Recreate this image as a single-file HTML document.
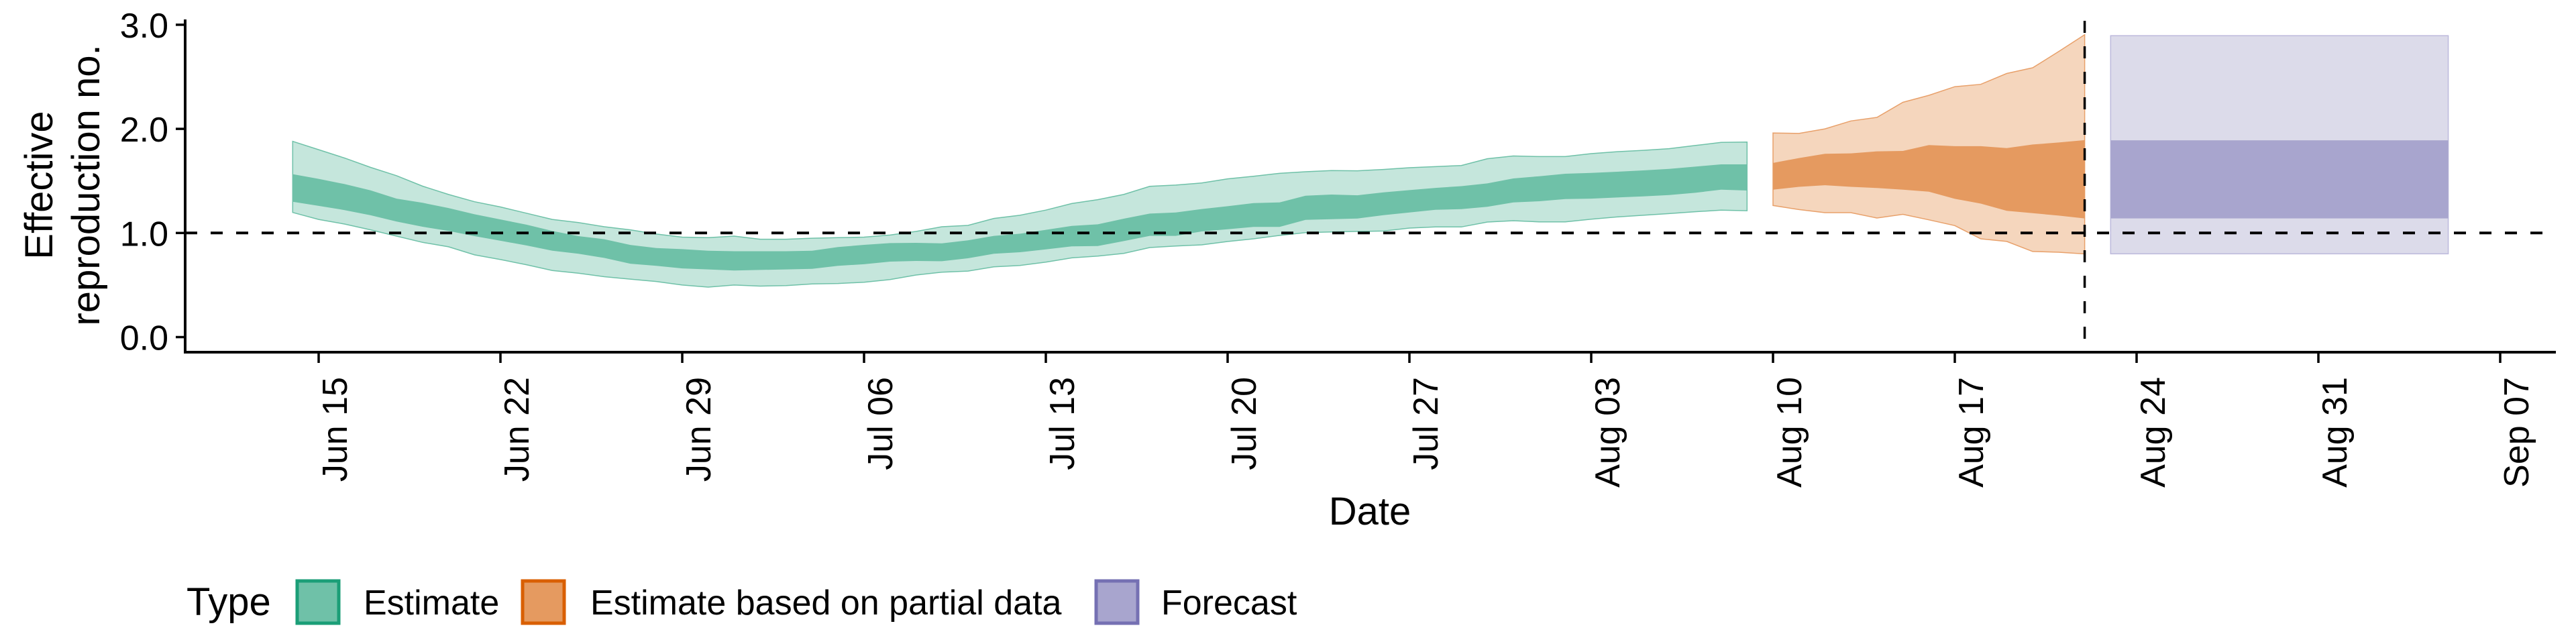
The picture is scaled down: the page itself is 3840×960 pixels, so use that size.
<!DOCTYPE html>
<html><head><meta charset="utf-8"><style>
html,body{margin:0;padding:0;background:#fff;}
svg{display:block;font-family:"Liberation Sans",sans-serif;}
</style></head><body>
<svg id="chart" width="3840" height="960" viewBox="0 0 3840 960" xmlns="http://www.w3.org/2000/svg">
<g id="bands"></g>
<g id="axes"></g>
<g id="legend"></g>
</svg>
<script>
// ---- data (day index: 0 = Jun 14) ----
const estStart = 0;
const estOuterTop = [1.88,1.80,1.72,1.63,1.55,1.45,1.37,1.30,1.25,1.19,1.13,1.10,1.06,1.03,0.99,0.96,0.955,0.97,0.94,0.94,0.95,0.955,0.96,
 0.98,1.015,1.06,1.073,1.14,1.17,1.22,1.283,1.32,1.37,1.448,1.46,1.48,1.52,1.545,1.573,1.588,1.60,1.597,1.61,1.627,1.637,1.648,1.713,1.74,1.734,1.734,1.762,1.781,1.794,1.81,1.84,1.87,1.874];
const estInnerTop = [1.565,1.52,1.47,1.41,1.33,1.29,1.24,1.18,1.13,1.08,1.02,0.97,0.94,0.885,0.855,0.845,0.83,0.825,0.825,0.825,0.83,0.865,0.886,
 0.903,0.905,0.90,0.93,0.972,0.993,1.03,1.068,1.083,1.137,1.186,1.197,1.23,1.257,1.287,1.294,1.358,1.369,1.362,1.39,1.412,1.433,1.45,1.476,1.524,1.545,1.569,1.577,1.588,1.601,1.616,1.637,1.659,1.659];
const estInnerBottom = [1.30,1.26,1.22,1.17,1.11,1.06,1.02,0.97,0.925,0.88,0.83,0.80,0.76,0.705,0.685,0.66,0.65,0.64,0.645,0.65,0.655,0.685,0.70,
 0.725,0.731,0.729,0.757,0.80,0.815,0.843,0.871,0.875,0.922,0.972,0.972,1.015,1.036,1.058,1.058,1.126,1.133,1.139,1.171,1.197,1.223,1.229,1.251,1.294,1.305,1.326,1.33,1.341,1.352,1.365,1.386,1.416,1.408];
const estOuterBottom = [1.197,1.13,1.086,1.03,0.97,0.91,0.867,0.79,0.745,0.695,0.64,0.614,0.58,0.557,0.534,0.50,0.48,0.50,0.49,0.495,0.51,0.515,0.527,
 0.553,0.596,0.624,0.634,0.675,0.688,0.72,0.761,0.778,0.804,0.86,0.875,0.886,0.918,0.944,0.976,1.004,1.01,1.015,1.019,1.047,1.058,1.058,1.105,1.118,1.107,1.107,1.133,1.154,1.17,1.186,1.204,1.219,1.214];

const partStart = 57;
const partOuterTop = [1.961,1.956,2.0,2.076,2.11,2.255,2.322,2.405,2.428,2.532,2.587,2.743,2.904];
const partInnerTop = [1.673,1.72,1.761,1.765,1.784,1.788,1.844,1.834,1.834,1.816,1.85,1.869,1.892];
const partInnerBottom = [1.416,1.443,1.459,1.443,1.432,1.416,1.397,1.328,1.282,1.213,1.19,1.167,1.14];
const partOuterBottom = [1.264,1.225,1.195,1.195,1.144,1.179,1.126,1.071,0.944,0.919,0.822,0.815,0.799];

const fcStartDay = 70, fcEndDay = 83;
const fcOuter = [0.80, 2.895];
const fcInner = [1.14, 1.89];

const forecastDateDay = 69;
const yTicks = [0, 1, 2, 3];
const yTickLabels = ["0.0","1.0","2.0","3.0"];
const xTickDays = [1,8,15,22,29,36,43,50,57,64,71,78,85];
const xTickLabels = ["Jun 15","Jun 22","Jun 29","Jul 06","Jul 13","Jul 20","Jul 27","Aug 03","Aug 10","Aug 17","Aug 24","Aug 31","Sep 07"];

// ---- scales ----
const X = d => 436.3 + 38.714 * d;
const Y = v => 502.5 - 155.2 * v;
const NS = "http://www.w3.org/2000/svg";
function mk(tag, attrs, parent){ const e=document.createElementNS(NS,tag); for(const k in attrs) e.setAttribute(k,attrs[k]); parent.appendChild(e); return e; }

const bands = document.getElementById('bands');
function band(start, top, bot, fill, stroke, name){
  let pts = top.map((v,i)=>X(start+i).toFixed(1)+","+Y(v).toFixed(1));
  for(let i=bot.length-1;i>=0;i--) pts.push(X(start+i).toFixed(1)+","+Y(bot[i]).toFixed(1));
  const p = mk('polygon',{points:pts.join(' '),fill:fill,stroke:stroke,'stroke-width':stroke==='none'?0:1.5},bands);
  
  
}
band(estStart, estOuterTop, estOuterBottom, '#c5e6dc', '#6fc1a8', 'estimate-90-band');
band(estStart, estInnerTop, estInnerBottom, '#6fc1a8', 'none', 'estimate-50-band');
band(partStart, partOuterTop, partOuterBottom, '#f5d6bd', '#e8a06a', 'partial-90-band');
band(partStart, partInnerTop, partInnerBottom, '#e59a60', 'none', 'partial-50-band');
function rect(d0,d1,lo,hi,fill,stroke,name){
  const r = mk('rect',{x:X(d0),y:Y(hi),width:X(d1)-X(d0),height:Y(lo)-Y(hi),fill:fill,stroke:stroke,'stroke-width':stroke==='none'?0:1.5},bands);
  
  
}
rect(fcStartDay, fcEndDay, fcOuter[0], fcOuter[1], '#dcdbea', '#bcb9dc', 'forecast-90-band');
rect(fcStartDay, fcEndDay, fcInner[0], fcInner[1], '#a8a5ce', 'none', 'forecast-50-band');

// ---- axes ----
const axes = document.getElementById('axes');
const hline = mk('line',{x1:276,x2:3808,y1:Y(1),y2:Y(1),stroke:'#000','stroke-width':4,'stroke-dasharray':'18 20'},axes);


const vline = mk('line',{x1:X(forecastDateDay),x2:X(forecastDateDay),y1:31,y2:525,stroke:'#000','stroke-width':3.5,'stroke-dasharray':'18 20'},axes);


const yax = mk('line',{x1:276,x2:276,y1:29,y2:527,stroke:'#000','stroke-width':4},axes);


const xax = mk('line',{x1:274,x2:3810,y1:525,y2:525,stroke:'#000','stroke-width':4},axes);


yTicks.forEach((v,i)=>{
  const t = mk('line',{x1:262,x2:276,y1:Y(v),y2:Y(v),stroke:'#000','stroke-width':3.5},axes);
  
  
  const l = mk('text',{x:251,y:Y(v)+19,'text-anchor':'end','font-size':52,fill:'#000'},axes);
  l.textContent = yTickLabels[i];
  
  
});
xTickDays.forEach((d,i)=>{
  const t = mk('line',{x1:X(d),x2:X(d),y1:525,y2:541,stroke:'#000','stroke-width':3.5},axes);
  
  
  const bx = X(d)+42, by = 562;
  const l = mk('text',{x:0,y:0,'text-anchor':'end','font-size':52,fill:'#000',transform:`translate(${bx},${by}) rotate(-90)`},axes);
  l.textContent = xTickLabels[i];
  
  
});
const xt = mk('text',{x:2042,y:782,'text-anchor':'middle','font-size':58,fill:'#000'},axes);
xt.textContent = 'Date';


const yt = mk('text',{'text-anchor':'middle','font-size':58,fill:'#000',transform:'translate(78,276) rotate(-90)'},axes);


const ts1 = mk('tspan',{x:0,y:0},yt); ts1.textContent='Effective';
const ts2 = mk('tspan',{x:0,y:70},yt); ts2.textContent='reproduction no.';

// ---- legend ----
const lg = document.getElementById('legend');
const lt = mk('text',{x:278,y:917,'font-size':58,fill:'#000'},lg);
lt.textContent='Type';


const legendItems = [
 {x:443, fill:'#6fc1a8', stroke:'#1b9e77', label:'Estimate', tx:542},
 {x:779, fill:'#e59a60', stroke:'#d95f02', label:'Estimate based on partial data', tx:880},
 {x:1634, fill:'#a8a5ce', stroke:'#7570b3', label:'Forecast', tx:1731}
];
legendItems.forEach(it=>{
  const g = mk('g',{},lg);
  
  
  mk('rect',{x:it.x,y:866,width:62,height:63,fill:it.fill,stroke:it.stroke,'stroke-width':5},g);
  const t = mk('text',{x:it.tx,y:916,'font-size':52,fill:'#000'},g);
  t.textContent = it.label;
});
</script>
</body></html>
